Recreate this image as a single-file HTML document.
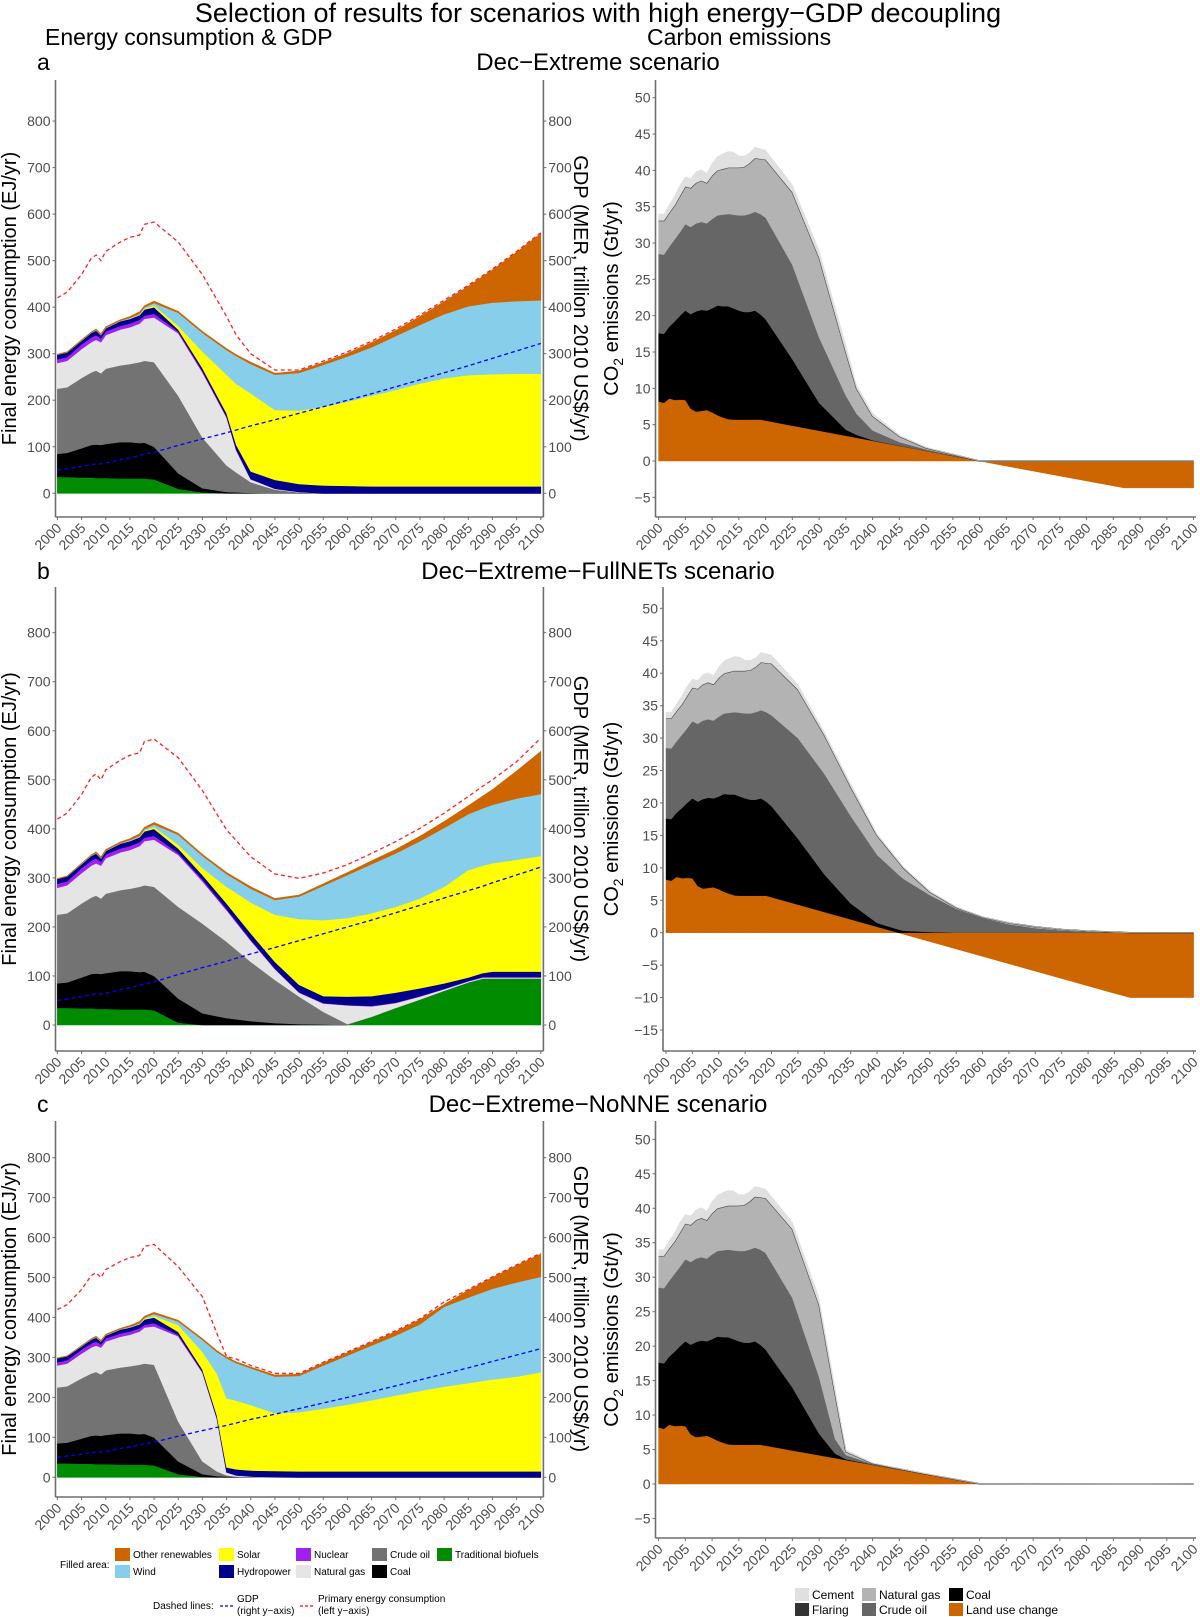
<!DOCTYPE html>
<html><head><meta charset="utf-8"><title>Energy-GDP decoupling scenarios</title>
<style>
html,body{margin:0;padding:0;background:#fff;}
svg{display:block;font-family:"Liberation Sans",Arial,sans-serif;}
.tick{font-size:14px;fill:#4d4d4d;}
.ttl{font-size:20px;fill:#000;}
.leg{font-size:10px;fill:#000;}
.legr{font-size:12px;fill:#000;}
</style></head>
<body>
<svg id="chart" width="1200" height="1617" viewBox="0 0 1200 1617" xmlns="http://www.w3.org/2000/svg">
<text x="598" y="22" text-anchor="middle" style="font-size:27px">Selection of results for scenarios with high energy−GDP decoupling</text>
<text x="45" y="45" style="font-size:23px">Energy consumption &amp; GDP</text>
<text x="647" y="45" style="font-size:23px">Carbon emissions</text>
<text x="37" y="70" style="font-size:23px">a</text>
<text x="598" y="70" text-anchor="middle" style="font-size:24px">Dec−Extreme scenario</text>
<text x="37" y="579" style="font-size:23px">b</text>
<text x="598" y="579" text-anchor="middle" style="font-size:24px">Dec−Extreme−FullNETs scenario</text>
<text x="37" y="1112" style="font-size:23px">c</text>
<text x="598" y="1112" text-anchor="middle" style="font-size:24px">Dec−Extreme−NoNNE scenario</text>

<g>
<text class="leg" x="60" y="1568">Filled area:</text>
<rect x="115" y="1548" width="15" height="13" fill="#cd6600"/><text class="leg" x="133" y="1558">Other renewables</text>
<rect x="115" y="1565" width="15" height="13" fill="#87ceeb"/><text class="leg" x="133" y="1575">Wind</text>
<rect x="219" y="1548" width="15" height="13" fill="#ffff00"/><text class="leg" x="237" y="1558">Solar</text>
<rect x="219" y="1565" width="15" height="13" fill="#00008b"/><text class="leg" x="237" y="1575">Hydropower</text>
<rect x="296" y="1548" width="15" height="13" fill="#a020f0"/><text class="leg" x="314" y="1558">Nuclear</text>
<rect x="296" y="1565" width="15" height="13" fill="#e5e5e5"/><text class="leg" x="314" y="1575">Natural gas</text>
<rect x="372" y="1548" width="15" height="13" fill="#737373"/><text class="leg" x="390" y="1558">Crude oil</text>
<rect x="372" y="1565" width="15" height="13" fill="#000"/><text class="leg" x="390" y="1575">Coal</text>
<rect x="437" y="1548" width="15" height="13" fill="#008b00"/><text class="leg" x="455" y="1558">Traditional biofuels</text>
<text class="leg" x="153" y="1609">Dashed lines:</text>
<line x1="220" y1="1606" x2="233" y2="1606" stroke="#0000ff" stroke-dasharray="3,2" stroke-width="1.2"/>
<text class="leg" x="237" y="1602">GDP</text><text class="leg" x="237" y="1614">(right y−axis)</text>
<line x1="300" y1="1606" x2="313" y2="1606" stroke="#ff0000" stroke-dasharray="3,2" stroke-width="1.2"/>
<text class="leg" x="318" y="1602">Primary energy consumption</text><text class="leg" x="318" y="1614">(left y−axis)</text>
</g>
<g>
<rect x="795" y="1588" width="14" height="13" fill="#e0e0e0"/><text class="legr" x="812" y="1599">Cement</text>
<rect x="795" y="1603" width="14" height="13" fill="#333"/><text class="legr" x="812" y="1614">Flaring</text>
<rect x="862" y="1588" width="14" height="13" fill="#b3b3b3"/><text class="legr" x="879" y="1599">Natural gas</text>
<rect x="862" y="1603" width="14" height="13" fill="#666"/><text class="legr" x="879" y="1614">Crude oil</text>
<rect x="949" y="1588" width="14" height="13" fill="#000"/><text class="legr" x="966" y="1599">Coal</text>
<rect x="949" y="1603" width="14" height="13" fill="#cd6600"/><text class="legr" x="966" y="1614">Land use change</text>
</g>
</svg>
<script>
// ---------- Left panels: historical (shared) ----------
const hYears=[2000,2002,2005,2007,2008,2009,2010,2013,2015,2017,2018,2020];
const hBio=[35,35,34,34,33,33,33,32,32,32,32,30];
const hCoal=[85,87,97,104,105,104,106,110,110,108,109,100];
const hOil=[225,228,248,260,264,258,268,275,278,282,285,282];
const hGas=[280,285,310,325,330,325,340,352,357,365,375,378];
const hNuc=[288,293,320,335,340,333,348,360,365,373,382,386];
const hHydro=[298,303,328,345,350,340,355,370,375,383,395,400];
const hSolar=[298,303,328,345,350,340,355,370,375,384,397,404];
const hWind=[298,303,329,346,351,341,356,371,377,386,400,409];
const hOther=[299,304,330,347,353,343,358,373,380,390,403,413];
const hPrim=[420,432,470,505,512,500,520,540,550,555,578,583];
const hGdp=[50,53,58,62,63,63,65,72,76,81,84,88];
// ---------- Panel a (stack tops, EJ/yr) ----------
const aYears=[2025,2030,2035,2037,2040,2045,2050,2055,2060,2065,2070,2075,2080,2085,2090,2095,2100];
const aBio=[10,2,0,0,0,0,0,0,0,0,0,0,0,0,0,0,0];
const aCoal=[43,11,3,2,1,0,0,0,0,0,0,0,0,0,0,0,0];
const aOil=[210,120,60,45,24,8,2,0,0,0,0,0,0,0,0,0,0];
const aGas=[344,260,163,92,30,10,3,0,0,0,0,0,0,0,0,0,0];
const aNuc=[348,263,165,94,31,10,3,0,0,0,0,0,0,0,0,0,0];
const aHydro=[352,269,172,104,47,29,20,17,16,15,15,15,15,15,15,15,15];
const aSolar=[360,305,255,235,215,179,178,186,197,210,222,236,247,254,256,257,257];
const aWind=[388,345,308,295,278,255,259,276,294,314,338,362,385,402,410,413,415];
const aOther=[391,348,311,298,282,258,263,281,301,324,350,380,412,445,480,518,558];
const aPrim=[540,470,380,340,300,265,265,284,304,327,353,383,415,447,482,520,560];
const aGdp=[103,117,130,136,145,158,172,186,200,214,229,244,259,274,290,306,322];
// ---------- Panel b ----------
const bYears=[2025,2030,2035,2040,2045,2050,2055,2060,2065,2070,2075,2080,2085,2088,2090,2095,2100];
const bBio=[5,0,0,0,0,0,0,0,17,35,52,70,87,95,95,95,95];
const bCoal=[54,24,14,8,4,2,1,0,17,35,52,70,87,95,95,95,95];
const bOil=[241,207,170,129,92,58,27,2,17,35,52,70,87,95,95,95,95];
const bGas=[347,293,234,172,114,66,44,40,38,45,58,73,89,97,97,97,97];
const bNuc=[351,297,237,174,115,67,45,41,39,46,59,74,90,98,98,98,98];
const bHydro=[360,306,248,187,129,82,59,58,59,66,75,85,97,106,109,109,109];
const bSolar=[368,320,282,250,225,216,214,218,228,241,258,282,316,325,330,337,345];
const bWind=[388,345,308,278,255,262,284,306,328,350,375,402,430,442,449,462,471];
const bOther=[391,348,311,282,258,265,288,311,335,358,385,415,447,467,480,518,558];
const bPrim=[545,478,398,343,308,299,310,327,350,374,401,432,466,487,500,537,585];
const bGdp=[103,117,130,145,158,172,186,200,214,229,244,259,274,283,290,306,322];
// ---------- Panel c ----------
const cYears=[2025,2030,2033,2035,2037,2040,2045,2050,2055,2060,2065,2070,2075,2080,2085,2090,2095,2100];
const cBio=[8,1,0,0,0,0,0,0,0,0,0,0,0,0,0,0,0,0];
const cCoal=[40,8,3,2,1,0,0,0,0,0,0,0,0,0,0,0,0,0];
const cOil=[140,40,15,5,2,1,0,0,0,0,0,0,0,0,0,0,0,0];
const cGas=[353,262,146,12,5,2,1,0,0,0,0,0,0,0,0,0,0,0];
const cNuc=[357,265,148,13,5,2,1,0,0,0,0,0,0,0,0,0,0,0];
const cHydro=[364,270,155,25,20,17,16,15,15,15,15,15,15,15,15,15,15,15];
const cSolar=[381,314,260,198,192,181,160,163,172,182,193,205,216,227,236,245,252,263];
const cWind=[390,344,314,298,286,273,252,254,280,305,330,355,383,427,450,472,488,502];
const cOther=[393,347,317,301,289,276,256,258,286,312,338,365,395,433,468,500,530,559];
const cPrim=[527,452,360,302,296,280,260,260,288,314,340,367,397,439,470,502,532,561];
const cGdp=[103,117,125,130,136,145,158,172,186,200,214,229,244,259,274,290,306,322];
// ---------- Right panels: CO2 historical (stack tops, Gt/yr) ----------
const rhYears=[2000,2001,2002,2003,2004,2005,2006,2007,2008,2009,2010,2011,2012,2013,2014,2015,2016,2017,2018,2019];
const rhLand=[8.2,8.0,8.6,8.4,8.45,8.4,7.2,6.8,6.9,7.0,6.7,6.3,6.0,5.75,5.7,5.7,5.7,5.7,5.7,5.7];
const rhCoal=[17.6,17.5,18.5,19.2,20.0,20.7,20.2,20.6,20.8,20.7,21.0,21.4,21.3,21.3,21.0,20.7,20.5,20.5,20.7,20.2];
const rhOil=[28.5,28.4,29.5,30.5,31.5,32.6,32.2,32.7,32.9,32.7,33.3,33.8,33.9,34.0,33.9,33.8,33.8,34.0,34.3,34.0];
const rhGas=[33.1,33.1,34.2,35.2,36.5,37.8,37.6,38.3,38.6,38.3,39.3,40.0,40.2,40.4,40.4,40.4,40.5,41.0,41.7,41.6];
const rhCement=[34.0,34.0,35.3,36.5,38.0,39.1,38.9,39.8,40.1,39.6,41.0,41.9,42.3,42.6,42.5,42.0,42.0,42.4,43.2,43.0];
// Right a
const raYears=[2020,2025,2030,2035,2037,2040,2045,2050,2055,2060,2065,2087,2100];
const raLand=[5.56,4.86,4.17,3.47,3.2,2.78,2.08,1.39,0.7,0,-0.7,-3.7,-3.7];
const raCoal=[19.5,14,8,4.3,3.6,2.85,2.1,1.4,0.7,0,0,0,0];
const raOil=[33.5,27,17,9,6.5,4.2,2.6,1.6,0.8,0,0,0,0];
const raGas=[41.5,37,28,15,10,6.2,3.4,1.8,0.9,0,0,0,0];
const raCement=[42.8,38,29,16,10.5,6.6,3.6,1.9,0.95,0,0,0,0];
// Right b
const rbYears=[2020,2025,2030,2035,2040,2044,2045,2050,2055,2060,2065,2070,2075,2080,2085,2088,2090,2095,2100];
const rbLand=[5.47,4.33,3.19,2.05,0.91,0,-0.23,-1.37,-2.51,-3.65,-4.79,-5.93,-7.07,-8.21,-9.35,-10,-10,-10,-10];
const rbCoal=[19.5,14.5,9,4.5,1.5,0.5,0.3,0.1,0,0,0,0,0,0,0,0,0,0,0];
const rbOil=[33.5,30,24.5,18,12,9,8.3,5.8,3.7,2.3,1.3,0.7,0.35,0.15,0.05,0,0,0,0];
const rbGas=[41.5,37.5,30.5,22.5,15,11,10,6.3,3.9,2.4,1.5,0.9,0.5,0.25,0.1,0,0,0,0];
const rbCement=[42.8,38.3,31,23,15.3,11.2,10.2,6.4,4,2.45,1.55,0.92,0.52,0.26,0.1,0,0,0,0];
// Right c
const rcYears=[2020,2025,2030,2033,2035,2040,2045,2050,2055,2060,2100];
const rcLand=[5.56,4.86,4.17,3.75,3.47,2.78,2.08,1.39,0.7,0,0];
const rcCoal=[19.5,14,7.3,4.4,3.6,2.8,2.1,1.4,0.7,0,0];
const rcOil=[33.5,27,15.5,6.5,4.2,2.9,2.15,1.42,0.72,0.02,0];
const rcGas=[41.5,37,26,13,4.7,3.0,2.2,1.45,0.74,0.03,0];
const rcCement=[42.8,38,27,14,5.0,3.1,2.25,1.5,0.76,0.04,0];

const xTicks=[2000,2005,2010,2015,2020,2025,2030,2035,2040,2045,2050,2055,2060,2065,2070,2075,2080,2085,2090,2095,2100];
const leftTicks=[0,100,200,300,400,500,600,700,800];
const rightTicksA=[-5,0,5,10,15,20,25,30,35,40,45,50];
const rightTicksB=[-15,-10,-5,0,5,10,15,20,25,30,35,40,45,50];

const NS="http://www.w3.org/2000/svg";
const svg=document.getElementById('chart');
function mk(tag,attrs,parent){const e=document.createElementNS(NS,tag);for(const k in attrs)e.setAttribute(k,attrs[k]);(parent||svg).appendChild(e);return e;}
function pts(xs,ys,sx,sy){return xs.map((x,i)=>sx(x).toFixed(2)+','+sy(ys[i]).toFixed(2));}
function areaD(xs,top,bot,sx,sy){const a=pts(xs,top,sx,sy);const b=pts(xs,bot,sx,sy).reverse();return 'M'+a.join('L')+'L'+b.join('L')+'Z';}
function lineD(xs,ys,sx,sy){return 'M'+pts(xs,ys,sx,sy).join('L');}

function axesFrame(g,P,ticks,sy,secondary){
  const ax='#6e6e6e';
  let e=mk('line',{x1:P.ax,y1:P.top,x2:P.ax,y2:P.bottom,stroke:ax,'stroke-width':1.6},g);
  
  
  e=mk('line',{x1:P.ax,y1:P.bottom,x2:P.rx,y2:P.bottom,stroke:ax,'stroke-width':1.6},g);
  
  
  if(secondary){
    e=mk('line',{x1:P.rx,y1:P.top,x2:P.rx,y2:P.bottom,stroke:ax,'stroke-width':1.6},g);
    
    
  }
  ticks.forEach(t=>{
    const y=sy(t);
    mk('line',{x1:P.ax-3,y1:y,x2:P.ax,y2:y,stroke:ax},g);
    const tx=mk('text',{x:P.ax-5,y:y+5,'text-anchor':'end',class:'tick'},g);
    tx.textContent=String(t).replace('-','−');
    
    
    if(secondary){
      mk('line',{x1:P.rx,y1:y,x2:P.rx+3,y2:y,stroke:ax},g);
      const t2=mk('text',{x:P.rx+5,y:y+5,class:'tick'},g);
      t2.textContent=String(t);
      
      
    }
  });
  xTicks.forEach(t=>{
    const x=P.sx(t);
    mk('line',{x1:x,y1:P.bottom,x2:x,y2:P.bottom+3,stroke:ax},g);
    const tx=mk('text',{x:x+5,y:P.bottom+12,'text-anchor':'end',class:'tick',transform:'rotate(-45 '+(x+5)+' '+(P.bottom+12)+')'},g);
    tx.textContent=t;
    
    
  });
}

function drawLeft(id,P,yrs,layers,prim,gdp){
  const g=mk('g',{});
  
  
  const sx=y=>P.x0+(y-2000)*(P.x1-P.x0)/100;
  const sy=v=>P.y0-v*P.ppu;
  P.sx=sx;
  const colors=['#008b00','#000000','#737373','#e5e5e5','#a020f0','#00008b','#ffff00','#87ceeb','#cd6600'];
  const names=['traditional-biofuels','coal','crude-oil','natural-gas','nuclear','hydropower','solar','wind','other-renewables'];
  let prev=yrs.map(()=>0);
  layers.forEach((top,i)=>{
    const p=mk('path',{d:areaD(yrs,top,prev,sx,sy),fill:colors[i],stroke:colors[i],'stroke-width':0.6},g);
    
    
    prev=top;
  });
  let l=mk('path',{d:lineD(yrs,prim,sx,sy),fill:'none',stroke:'#ff2020','stroke-width':1.3,'stroke-dasharray':'4,3'},g);
  
  
  l=mk('path',{d:lineD(yrs,gdp,sx,sy),fill:'none',stroke:'#0000ff','stroke-width':1.3,'stroke-dasharray':'4,3'},g);
  
  
  axesFrame(g,P,leftTicks,sy,true);
  const cy=(P.top+P.bottom)/2;
  let t=mk('text',{x:16,y:cy,'text-anchor':'middle',class:'ttl',transform:'rotate(-90 16 '+cy+')'},g);
  t.textContent='Final energy consumption (EJ/yr)';
  
  
  t=mk('text',{x:574,y:cy,'text-anchor':'middle',class:'ttl',transform:'rotate(90 574 '+cy+')'},g);
  t.textContent='GDP (MER, trillion 2010 US$/yr)';
  
  
}

function drawRight(id,P,yrs,land,coal,oil,gas,cement,ticks){
  const g=mk('g',{});
  
  
  const sx=y=>P.x0+(y-2000)*(P.x1-P.x0)/100;
  const sy=v=>P.y0-v*P.ppu;
  P.sx=sx;
  const zero=yrs.map(()=>0);
  let p=mk('path',{d:areaD(yrs,land,zero,sx,sy),fill:'#cd6600',stroke:'#cd6600','stroke-width':0.5},g);
  
  
  let prev=land.map(v=>Math.max(v,0));
  const layers=[coal,oil,gas,cement];
  const colors=['#000000','#666666','#b3b3b3','#e0e0e0'];
  const names=['coal','crude-oil','natural-gas','cement'];
  layers.forEach((top,i)=>{
    const t2=top.map((v,j)=>Math.max(v,prev[j]));
    p=mk('path',{d:areaD(yrs,t2,prev,sx,sy),fill:colors[i],stroke:colors[i],'stroke-width':0.4},g);
    
    
    if(i===2){
      const fl=mk('path',{d:lineD(yrs,t2,sx,sy),fill:'none',stroke:'#333','stroke-width':1.4},g);
      
      
    }
    prev=t2;
  });
  axesFrame(g,P,ticks,sy,false);
  const cy=(P.top+P.bottom)/2;
  const t=mk('text',{x:618,y:cy,'text-anchor':'middle',class:'ttl',transform:'rotate(-90 618 '+cy+')'},g);
  
  
  t.innerHTML='CO<tspan dy="5" style="font-size:14px">2</tspan><tspan dy="-5"> emissions (Gt/yr)</tspan>';
}

function L(h,f){return h.concat(f);}
drawLeft('a',{x0:57.4,x1:540.8,ax:55.5,rx:543.4,y0:493.3,ppu:0.4653,top:80,bottom:517},
  L(hYears,aYears),[L(hBio,aBio),L(hCoal,aCoal),L(hOil,aOil),L(hGas,aGas),L(hNuc,aNuc),L(hHydro,aHydro),L(hSolar,aSolar),L(hWind,aWind),L(hOther,aOther)],L(hPrim,aPrim),L(hGdp,aGdp));
drawLeft('b',{x0:57.4,x1:540.8,ax:55.5,rx:543.4,y0:1025,ppu:0.4904,top:587,bottom:1051},
  L(hYears,bYears),[L(hBio,bBio),L(hCoal,bCoal),L(hOil,bOil),L(hGas,bGas),L(hNuc,bNuc),L(hHydro,bHydro),L(hSolar,bSolar),L(hWind,bWind),L(hOther,bOther)],L(hPrim,bPrim),L(hGdp,bGdp));
drawLeft('c',{x0:57.4,x1:540.8,ax:55.5,rx:543.4,y0:1477.3,ppu:0.3995,top:1121,bottom:1497},
  L(hYears,cYears),[L(hBio,cBio),L(hCoal,cCoal),L(hOil,cOil),L(hGas,cGas),L(hNuc,cNuc),L(hHydro,cHydro),L(hSolar,cSolar),L(hWind,cWind),L(hOther,cOther)],L(hPrim,cPrim),L(hGdp,cGdp));
drawRight('a',{x0:658.6,x1:1193.6,ax:655.5,rx:1196,y0:461,ppu:7.266,top:80,bottom:517},
  L(rhYears,raYears),L(rhLand,raLand),L(rhCoal,raCoal),L(rhOil,raOil),L(rhGas,raGas),L(rhCement,raCement),rightTicksA);
drawRight('b',{x0:666,x1:1193.6,ax:663,rx:1196,y0:932.7,ppu:6.487,top:587,bottom:1051},
  L(rhYears,rbYears),L(rhLand,rbLand),L(rhCoal,rbCoal),L(rhOil,rbOil),L(rhGas,rbGas),L(rhCement,rbCement),rightTicksB);
drawRight('c',{x0:658.6,x1:1193.6,ax:655.5,rx:1196,y0:1484,ppu:6.893,top:1121,bottom:1538},
  L(rhYears,rcYears),L(rhLand,rcLand),L(rhCoal,rcCoal),L(rhOil,rcOil),L(rhGas,rcGas),L(rhCement,rcCement),rightTicksA);
</script>
</body></html>
